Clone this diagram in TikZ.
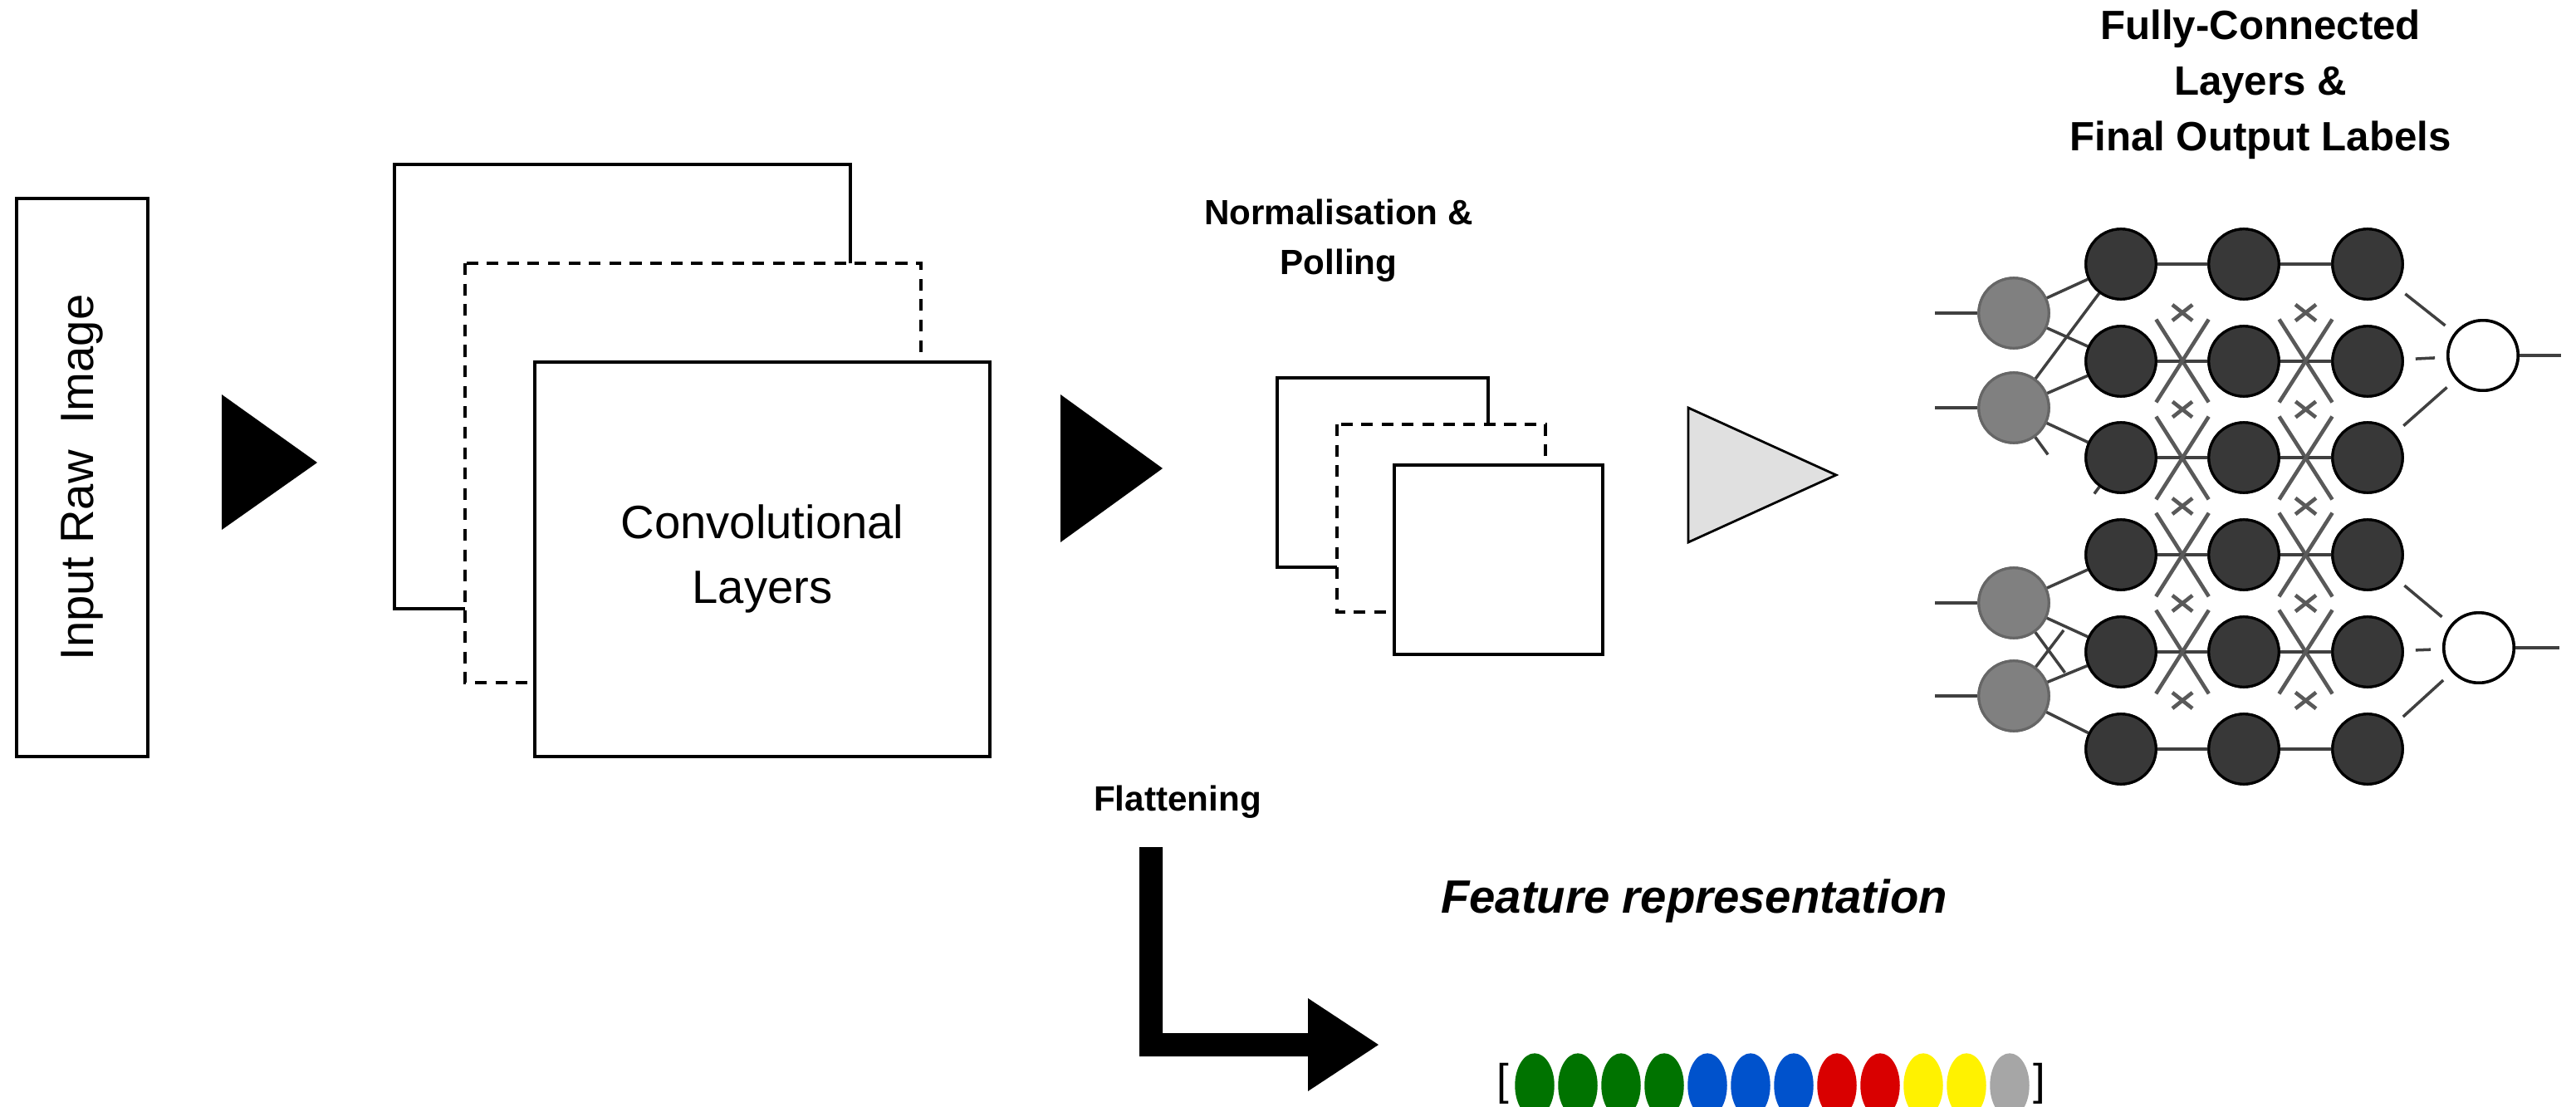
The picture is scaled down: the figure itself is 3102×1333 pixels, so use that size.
\documentclass[tikz,border=0pt]{standalone}
\usepackage{fontspec}
\setmainfont{Liberation Sans}
\usetikzlibrary{shapes.geometric}
\begin{document}
\begin{tikzpicture}[x=0.01cm,y=-0.01cm,
  box/.style={draw=black,line width=1.1pt,fill=white},
  dbox/.style={draw=black,line width=1.1pt,dash pattern=on 4pt off 3pt,fill=white},
  dn/.style={circle,draw=black,fill=black!78,line width=0.9pt,minimum size=24pt,inner sep=0},
  gn/.style={circle,draw=black!60,fill=black!50,line width=0.9pt,minimum size=24pt,inner sep=0},
  wn/.style={circle,draw=black,fill=white,line width=1pt,minimum size=24pt,inner sep=0},
  ln/.style={draw=black!75,line width=1pt},
  xl/.style={draw=black!65,line width=1.3pt,shorten <=10pt,shorten >=10pt},
  lbl/.style={align=center},
  dot/.style={ellipse,minimum width=13.5pt,minimum height=22pt,inner sep=0,fill=#1}]
\useasboundingbox (0,0) rectangle (3102,1333);
% input
\node[box,minimum width=45pt,minimum height=191pt] (inp) at (99,575) {};
\node[rotate=90,font=\fontsize{16pt}{18pt}\selectfont] (inpt) at (inp.center) {Input Raw \ Image};
% arrow 1
\fill[black] (267,475) -- (382,557) -- (267,638) -- cycle;
% conv layers
\draw[box] (475,198) rectangle (1024,733);
\draw[dbox] (560,317) rectangle (1109,822);
\draw[box] (644,436) rectangle (1192,911);
\node[font=\fontsize{16pt}{22pt}\selectfont,align=center] (conv) at (918,673) {Convolutional\\Layers};
% arrow 2
\fill[black] (1277,475) -- (1400,564) -- (1277,653) -- cycle;
% norm
\node[lbl,font=\fontsize{12pt}{17pt}\selectfont\bfseries] (norm) at (1612,290) {Normalisation \&\\Polling};
\draw[box] (1538,455) rectangle (1792,683);
\draw[dbox] (1610,511) rectangle (1861,737);
\draw[box] (1679,560) rectangle (1930,788);
% arrow 3
\draw[fill=black!12,line width=0.8pt] (2033,491) -- (2211,572) -- (2033,653) -- cycle;
% FC title
\node[lbl,font=\fontsize{14pt}{19pt}\selectfont\bfseries] (fct) at (2722,102) {Fully-Connected\\Layers \&\\Final Output Labels};
% network nodes
\foreach \c/\x in {1/2554,2/2702,3/2851}{
  \foreach \r/\y in {1/318,2/435,3/551,4/668,5/785,6/902}{
    \node[dn] (d\c\r) at (\x,\y) {};
  }}
\foreach \r/\y in {1/377,2/491,3/726,4/838}{ \node[gn] (g\r) at (2425,\y) {}; \coordinate (ge\r) at (2330,\y);}
\node[wn] (o1) at (2990,428) {}; \node[wn] (o2) at (2985,780) {};
\coordinate (oe1) at (3084,428); \coordinate (oe2) at (3082,780);
\foreach \r in {1,2,3,4}{\draw[ln] (ge\r) -- (g\r);}
\draw[ln] (o1) -- (oe1); \draw[ln] (o2) -- (oe2);
\draw[ln] (g1) -- (d11); \draw[ln] (g1) -- (d12);
\draw[ln] (g2) -- (d11); \draw[ln] (g2) -- (d12); \draw[ln] (g2) -- (d13);
\draw[ln,shorten >=30pt] (g2) -- (d14);
\draw[ln,shorten >=34pt] (d13) -- (g3);
\draw[ln] (g3) -- (d14); \draw[ln] (g3) -- (d15); \draw[ln,shorten >=20pt] (g3) -- (d16);
\draw[ln] (g4) -- (d16); \draw[ln] (g4) -- (d15); \draw[ln,shorten >=20pt] (g4) -- (d14);
\foreach \r in {1,2,3}{\draw[ln,shorten <=4pt,shorten >=4pt] (d3\r) -- (o1);}
\foreach \r in {4,5,6}{\draw[ln,shorten <=4pt,shorten >=4pt] (d3\r) -- (o2);}
\foreach \c/\n in {1/2,2/3}{
  \foreach \r in {1,...,6}{
    \draw[ln,line width=1.3pt] (d\c\r) -- (d\n\r);
    \foreach \dd in {-2,-1,1,2}{
      \pgfmathtruncatemacro{\t}{\r+\dd}
      \ifnum\t>0 \ifnum\t<7 \draw[xl] (d\c\r) -- (d\n\t); \fi\fi
    }}}
\foreach \c in {1,2,3}{\foreach \r in {1,...,6}{\node[dn] at (d\c\r) {};}}
\foreach \r in {1,2,3,4}{\node[gn] at (g\r) {};}
\node[wn] at (o1) {}; \node[wn] at (o2) {};
% flattening
\node[lbl,font=\fontsize{12pt}{14pt}\selectfont\bfseries] (flat) at (1418,966) {Flattening};
\fill[black] (1372,1020) -- (1400,1020) -- (1400,1244) -- (1575,1244) -- (1575,1202) -- (1660,1258) -- (1575,1314) -- (1575,1272) -- (1372,1272) -- cycle;
% feature representation
\node[font=\fontsize{16pt}{18pt}\selectfont\bfseries\itshape] (feat) at (2040,1085) {Feature representation};
\foreach \i/\cl in {0/green!45!black,1/green!45!black,2/green!45!black,3/green!45!black,4/blue!60!cyan!80!black,5/blue!60!cyan!80!black,6/blue!60!cyan!80!black,7/red!85!black,8/red!85!black,9/yellow,10/yellow,11/black!35}{
  \node[dot=\cl] (f\i) at (1848+52*\i,1307) {};
}
\node[font=\fontsize{15pt}{17pt}\selectfont] (lb) at (1810,1305) {[};
\node[font=\fontsize{15pt}{17pt}\selectfont] (rb) at (2456,1305) {]};
\end{tikzpicture}
\end{document}
